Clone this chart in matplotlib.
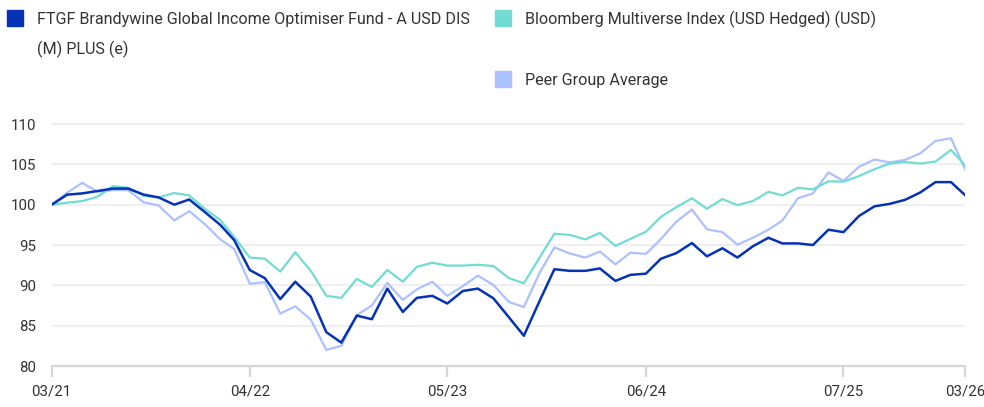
import numpy as np
import pandas as pd
import matplotlib
matplotlib.use('Agg')
import matplotlib.pyplot as plt
from matplotlib.patches import Rectangle

plt.rcParams['font.family'] = ['Roboto', 'DejaVu Sans']

# monthly, rebased to 100 at 03/21
months = pd.date_range('2021-03-01', periods=61, freq='MS')

fund = [100, 101.25, 101.4, 101.7, 102.0, 102.0, 101.25, 100.9, 100.0, 100.65,
        99.1, 97.5, 95.6, 91.9, 90.9, 88.3, 90.45, 88.6, 84.2, 82.9,
        86.25, 85.8, 89.6, 86.7, 88.45, 88.7, 87.75, 89.3, 89.6, 88.4,
        86.05, 83.75, 88.0, 92.0, 91.8, 91.8, 92.1, 90.55, 91.3, 91.45,
        93.3, 94.0, 95.25, 93.6, 94.6, 93.45, 94.85, 95.9, 95.2, 95.2,
        95.0, 96.9, 96.6, 98.6, 99.8, 100.1, 100.6, 101.5, 102.8, 102.8,
        101.2]
bench = [100, 100.25, 100.45, 101.0, 102.3, 102.1, 101.1, 100.9, 101.45, 101.15,
         99.5, 98.1, 96.0, 93.45, 93.3, 91.7, 94.1, 91.8, 88.7, 88.45,
         90.8, 89.8, 91.9, 90.45, 92.3, 92.8, 92.45, 92.45, 92.55, 92.4,
         90.9, 90.25, 93.4, 96.4, 96.25, 95.7, 96.5, 94.9, 95.75, 96.65,
         98.5, 99.7, 100.8, 99.5, 100.7, 99.95, 100.45, 101.6, 101.15, 102.1,
         101.9, 102.9, 102.85, 103.55, 104.4, 105.1, 105.3, 105.1, 105.35, 106.8,
         104.9]
peer = [100, 101.5, 102.7, 101.6, 101.8, 101.8, 100.3, 99.9, 98.05, 99.2,
        97.6, 95.7, 94.5, 90.2, 90.4, 86.5, 87.4, 85.75, 82.0, 82.5,
        86.3, 87.5, 90.3, 88.2, 89.5, 90.45, 88.7, 89.9, 91.2, 90.05,
        87.95, 87.3, 91.5, 94.7, 93.95, 93.45, 94.2, 92.6, 94.05, 93.9,
        95.75, 97.9, 99.4, 96.95, 96.6, 95.05, 95.9, 96.9, 98.05, 100.8,
        101.4, 104.0, 102.95, 104.7, 105.6, 105.25, 105.55, 106.35, 107.9, 108.25,
        104.4]

labels = ['FTGF Brandywine Global Income Optimiser Fund - A USD DIS\n(M) PLUS (e)',
          'Bloomberg Multiverse Index (USD Hedged) (USD)',
          'Peer Group Average']
colors = ['#0632b6', '#72dcd4', '#adc0ff']

tick_dates = pd.to_datetime(['2021-03-01', '2022-04-01', '2023-05-01',
                             '2024-06-01', '2025-07-01', '2026-03-01'])
tick_labels = ['03/21', '04/22', '05/23', '06/24', '07/25', '03/26']

W, H = 984, 407
fig = plt.figure(figsize=(W / 100, H / 100), dpi=100)
ax = fig.add_axes([51.7 / W, 1 - 366 / H, (965 - 51.7) / W, (366 - 116) / H])

ax.plot(months, peer, color=colors[2], lw=1.6, zorder=3)
ax.plot(months, bench, color=colors[1], lw=1.6, zorder=4)
ax.plot(months, fund, color=colors[0], lw=1.8, zorder=5)

ax.set_xlim(months[0], months[-1])
ax.set_ylim(80, 111)
ax.set_yticks(np.arange(80, 111, 5))
ax.set_xticks(tick_dates)
ax.set_xticklabels(tick_labels)
ax.grid(axis='y', color='#efefef', lw=1.6, zorder=0)

for s in ['top', 'right', 'left']:
    ax.spines[s].set_visible(False)
ax.spines['bottom'].set_color('#d6d6d6')
ax.spines['bottom'].set_linewidth(1.6)
ax.tick_params(axis='y', length=0, pad=11, labelsize=10.8, labelcolor='#333333')
ax.tick_params(axis='x', length=8, width=1.6, color='#d6d6d6', pad=5,
               labelsize=10.8, labelcolor='#333333')

# legend drawn by hand (row-major layout of the original)
def px(x, y):
    return x / W, 1 - y / H

# square (x, y top), text x, baselines of each text line
legend_spots = [(7, 10, 37, [24, 54.5]), (495, 10, 525, [24]), (495, 71, 525, [85])]
for (sx, sy, tx, bases), lab, c in zip(legend_spots, labels, colors):
    x0, y0 = px(sx, sy + 16)
    fig.patches.append(Rectangle((x0, y0), 16 / W, 16 / H, transform=fig.transFigure,
                                 color=c, figure=fig))
    for line, b in zip(lab.split('\n'), bases):
        fig.text(*px(tx, b), line, fontsize=11.6, color='#333333',
                 va='baseline', ha='left')

fig.savefig('out.png', dpi=100)
